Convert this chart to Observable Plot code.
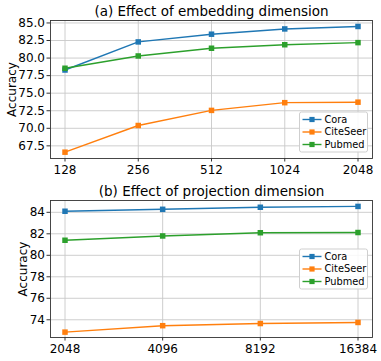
<!DOCTYPE html>
<html>
<head>
<meta charset="utf-8">
<script src="https://cdn.jsdelivr.net/npm/d3@7"></script>
<script src="https://cdn.jsdelivr.net/npm/@observablehq/plot@0.6"></script>
<style>
  html, body { margin: 0; padding: 0; background: #fff; }
  #chart svg { display: block; }
</style>
</head>
<body>
<div id="chart"></div>
<script>
// ---- Data ----
const seriesNames = ["Cora", "CiteSeer", "Pubmed"];
const seriesColors = ["#1f77b4", "#ff7f0e", "#2ca02c"];

// (a) embedding dimension
const embedDims = [128, 256, 512, 1024, 2048];
const embedCora = [78.3, 82.3, 83.4, 84.15, 84.5];
const embedCiteSeer = [66.6, 70.4, 72.55, 73.65, 73.72];
const embedPubmed = [78.55, 80.3, 81.4, 81.9, 82.2];
const embedYTicks = [67.5, 70.0, 72.5, 75.0, 77.5, 80.0, 82.5, 85.0];

// (b) projection dimension
const projDims = [2048, 4096, 8192, 16384];
const projCora = [84.1, 84.28, 84.47, 84.55];
const projCiteSeer = [72.85, 73.45, 73.65, 73.75];
const projPubmed = [81.4, 81.8, 82.1, 82.12];
const projYTicks = [74, 76, 78, 80, 82, 84];

function toRows(dims, lists) {
  const rows = [];
  seriesNames.forEach((s, i) => dims.forEach((d, j) => rows.push({series: s, dim: d, acc: lists[i][j]})));
  return rows;
}

function panel({title, dims, lists, yDomain, yTicks, yFmt, height, marginTop, marginBottom, labelOffset, legendY}) {
  const rows = toRows(dims, lists);
  const svg = Plot.plot({
    width: 381,
    height,
    marginTop,
    marginBottom,
    marginLeft: 50,
    marginRight: 9,
    style: {fontFamily: "'DejaVu Sans', sans-serif", fontSize: "12px", background: "#fff", color: "#000", overflow: "visible"},
    x: {type: "log", base: 2, domain: [dims[0], dims[dims.length - 1]], insetLeft: 14.5, insetRight: 14.5},
    y: {domain: yDomain},
    color: {domain: seriesNames, range: seriesColors},
    marks: [
      Plot.gridX(dims, {stroke: "#c8c8c8", strokeOpacity: 1, strokeWidth: 0.9}),
      Plot.gridY(yTicks, {stroke: "#c8c8c8", strokeOpacity: 1, strokeWidth: 0.9}),
      Plot.axisX(dims, {tickSize: 3.5, tickPadding: 3, tickFormat: d => String(d), fontSize: 12, label: null, stroke: "#333"}),
      Plot.axisY(yTicks, {tickSize: 3.5, tickPadding: 2, tickFormat: yFmt, fontSize: 12, label: "Accuracy", labelAnchor: "center", labelArrow: "none", labelOffset, stroke: "#333"}),
      Plot.line(rows, {x: "dim", y: "acc", z: "series", stroke: "series", strokeWidth: 1.4}),
      Plot.dot(rows, {x: "dim", y: "acc", fill: "series", symbol: "square", r: 3.1, stroke: null}),
      Plot.frame({stroke: "#333", strokeWidth: 0.9}),
      Plot.text([title], {frameAnchor: "top", dy: -5, lineAnchor: "bottom", fontSize: 13.5, fill: "#000"})
    ]
  });
  // legend (decoration)
  const g = d3.select(svg).append("g").attr("transform", `translate(299.5,${legendY})`)
    .attr("text-anchor", "start");
  g.append("rect").attr("width", 68).attr("height", 40).attr("rx", 2)
    .attr("fill", "#fff").attr("fill-opacity", 0.85).attr("stroke", "#cfcfcf").attr("stroke-width", 1);
  seriesNames.forEach((s, i) => {
    const y = 7.5 + i * 12.5;
    g.append("line").attr("x1", 3).attr("x2", 22).attr("y1", y).attr("y2", y)
      .attr("stroke", seriesColors[i]).attr("stroke-width", 1.4);
    g.append("rect").attr("x", 12.5 - 2.6).attr("y", y - 2.6).attr("width", 5.2).attr("height", 5.2).attr("fill", seriesColors[i]);
    g.append("text").attr("x", 25).attr("y", y).attr("dy", "0.35em").attr("text-anchor", "start")
      .attr("font-size", 9.8).attr("font-family", "'DejaVu Sans', sans-serif").attr("fill", "#000").text(s);
  });
  return svg;
}

const root = document.getElementById("chart");
root.appendChild(panel({
  title: "(a) Effect of embedding dimension",
  dims: embedDims,
  lists: [embedCora, embedCiteSeer, embedPubmed],
  yDomain: [65.7, 85.35],
  yTicks: embedYTicks,
  yFmt: d => d.toFixed(1),
  height: 180, marginTop: 20, marginBottom: 22,
  labelOffset: 43,
  legendY: 112
}));
root.appendChild(panel({
  title: "(b) Effect of projection dimension",
  dims: projDims,
  lists: [projCora, projCiteSeer, projPubmed],
  yDomain: [72.35, 85.1],
  yTicks: projYTicks,
  yFmt: d => String(d),
  height: 181, marginTop: 20, marginBottom: 24,
  labelOffset: 32,
  legendY: 69
}));
</script>
</body>
</html>
